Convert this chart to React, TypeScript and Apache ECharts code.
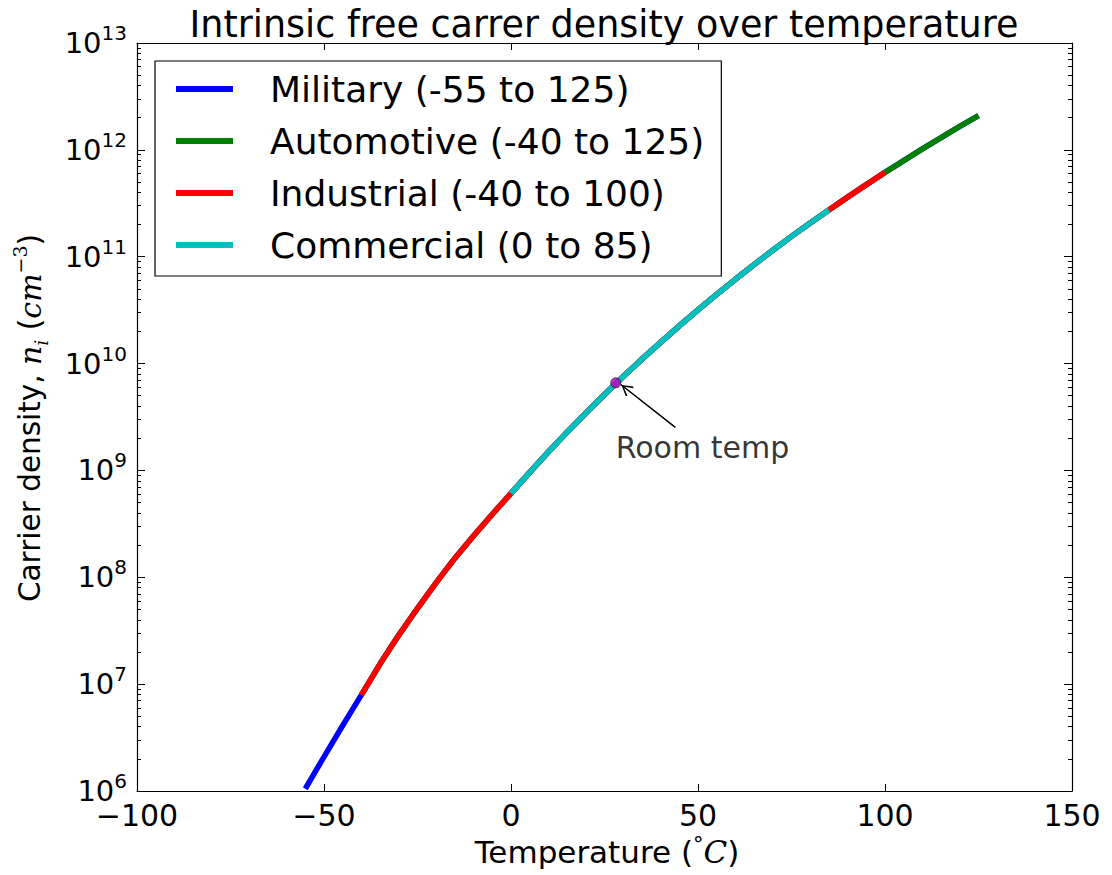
import { useEffect, useRef } from "react";
import * as echarts from "echarts";

// ---- data ----
const temps = [
  -55, -50, -45, -40, -35, -30, -25, -20, -15, -10, -5,
  0, 5, 10, 15, 20, 25, 30, 35, 40, 45, 50, 55, 60, 65, 70, 75, 80, 85, 90, 95,
  100, 105, 110, 115, 120, 125,
];
const density = [
  1.05e6, 2.09e6, 4.1e6, 7.94e6, 1.55e7, 2.88e7, 5.13e7, 8.91e7, 1.51e8, 2.45e8, 3.89e8,
  6.1e8, 9.6e8, 1.49e9, 2.28e9, 3.44e9, 5.14e9, 7.57e9, 1.1e10, 1.58e10, 2.25e10, 3.18e10,
  4.45e10, 6.15e10, 8.43e10, 1.15e11, 1.55e11, 2.07e11, 2.74e11, 3.61e11, 4.73e11,
  6.15e11, 7.94e11, 1.02e12, 1.3e12, 1.66e12, 2.09e12,
];
const seriesNames = [
  "Military (-55 to 125)",
  "Automotive (-40 to 125)",
  "Industrial (-40 to 100)",
  "Commercial (0 to 85)",
];
const seriesRanges = [
  [-55, 125],
  [-40, 125],
  [-40, 100],
  [0, 85],
];
const roomTemp = [28, 6.6e9];
const roomArrowFrom = [43.9, 2.54e9];
const roomArrowTo = [29.4, 6.35e9];
const roomLabelAt = [28, 1.65e9];
const roomLabel = "Room temp";
const xMin = -100;
const xMax = 150;
const xInterval = 50;
const yMin = 1e6;
const yMax = 1e13;
const title = "Intrinsic free carrer density over temperature";

const colors = ["#0000ff", "#008000", "#ff0000", "#00bfbf"];
const FONT = "DejaVu Sans";
const MATH = "DejaVu Serif";

export default function App() {
  const ref = useRef<HTMLDivElement>(null);

  useEffect(() => {
    if (!ref.current) return;
    const chart = echarts.init(ref.current, undefined, { renderer: "svg" });

    const lineSeries = seriesNames.map((name, i) => {
      const [lo, hi] = seriesRanges[i];
      const data = temps
        .map((t, k) => [t, density[k]])
        .filter(([t]) => t >= lo && t <= hi);
      return {
        name,
        type: "line",
        data,
        showSymbol: false,
        symbol: "none",
        smooth: false,
        lineStyle: { color: colors[i], width: 5.5, cap: "butt" },
        itemStyle: { color: colors[i] },
        silent: true,
        z: 2 + i,
      };
    });

    const tickLabelRich = {
      b: { fontSize: 29, fontFamily: FONT, color: "#000", lineHeight: 40 },
      e: { fontSize: 20, fontFamily: FONT, color: "#000", lineHeight: 20, verticalAlign: "top" },
    };

    const yAxisCommon = {
      type: "log",
      logBase: 10,
      min: yMin,
      max: yMax,
      splitLine: { show: false },
      axisLine: { show: true, onZero: false, lineStyle: { color: "#000", width: 1.2 } },
      axisTick: { show: true, inside: true, length: 8, lineStyle: { color: "#000", width: 1 } },
      minorTick: { show: true, splitNumber: 9, length: 4, lineStyle: { color: "#000", width: 1 } },
      minorSplitLine: { show: false },
    };

    const xAxisCommon = {
      type: "value",
      min: xMin,
      max: xMax,
      interval: xInterval,
      splitLine: { show: false },
      axisLine: { show: true, onZero: false, lineStyle: { color: "#000", width: 1.2 } },
      axisTick: { show: true, inside: true, length: 7, lineStyle: { color: "#000", width: 1 } },
    };

    const option = {
      animation: false,
      backgroundColor: "#fff",
      grid: { left: 137, right: 40, top: 43, bottom: 84, containLabel: false },
      xAxis: [
        {
          ...xAxisCommon,
          position: "bottom",
          axisLabel: {
            show: true,
            fontSize: 30,
            fontFamily: FONT,
            color: "#000",
            margin: 9,
            formatter: (v: number) => (v < 0 ? "\u2212" + Math.abs(v) : String(v)),
          },
        },
        { ...xAxisCommon, position: "top", axisLabel: { show: false } },
      ],
      yAxis: [
        {
          ...yAxisCommon,
          position: "left",
          axisLabel: {
            show: true,
            margin: 10,
            formatter: (v: number) => `{b|10}{e|${Math.round(Math.log10(v))}}`,
            rich: tickLabelRich,
          },
        },
        { ...yAxisCommon, position: "right", axisLabel: { show: false } },
      ],
      legend: {
        show: true,
        orient: "vertical",
        left: 155,
        top: 61,
        padding: [10, 17, 13, 21],
        itemWidth: 57,
        itemHeight: 6,
        itemGap: 16,
        icon: "rect",
        borderColor: "#000",
        borderWidth: 1.2,
        backgroundColor: "#fff",
        selectedMode: false,
        textStyle: {
          fontSize: 36,
          fontFamily: FONT,
          color: "#000",
          lineHeight: 36,
          padding: [0, 0, 0, 32],
        },
        data: seriesNames,
      },
      graphic: [
        {
          type: "text",
          x: 604,
          y: 24,
          style: {
            text: title,
            fontSize: 36.5,
            fontFamily: FONT,
            fill: "#000",
            align: "center",
            verticalAlign: "middle",
          },
        },
        {
          type: "text",
          x: 607,
          y: 852,
          style: {
            text: "Temperature ({s|\u00b0}{m|C})",
            fontSize: 31,
            fontFamily: FONT,
            fill: "#000",
            align: "center",
            verticalAlign: "middle",
            rich: {
              s: { fontSize: 21, fontFamily: MATH, lineHeight: 38, verticalAlign: "top", fill: "#000" },
              m: { fontSize: 31, fontFamily: MATH, fontStyle: "italic", fill: "#000" },
            },
          },
        },
        {
          type: "text",
          x: 30,
          y: 418,
          rotation: Math.PI / 2,
          style: {
            text: "Carrier density, {m|n}{sub|i} ({m|cm}{sup|\u22123})",
            fontSize: 29.5,
            fontFamily: FONT,
            fill: "#000",
            align: "center",
            verticalAlign: "middle",
            rich: {
              m: { fontSize: 30, fontFamily: MATH, fontStyle: "italic", fill: "#000", lineHeight: 40 },
              sub: { fontSize: 19, fontFamily: MATH, fontStyle: "italic", fill: "#000", lineHeight: 22, verticalAlign: "bottom" },
              sup: { fontSize: 19, fontFamily: MATH, fill: "#000", lineHeight: 20, verticalAlign: "top" },
            },
          },
        },
      ],
      series: [
        ...lineSeries,
        {
          name: "roomTempPoint",
          type: "scatter",
          data: [roomTemp],
          symbol: "circle",
          symbolSize: 10,
          silent: true,
          itemStyle: { color: "#bf00bf", borderColor: "#000", borderWidth: 0.8 },
          z: 10,
          markLine: {
            silent: true,
            symbol: ["none", "none"],
            label: { show: false },
            lineStyle: { color: "#000", width: 1.2, type: "solid" },
            data: [
              [{ coord: roomArrowFrom }, { coord: roomArrowTo }],
              [
                { coord: roomArrowFrom, symbol: "none" },
                {
                  coord: roomArrowTo,
                  symbol:
                    "path://M5,0 L5.01,0 L5,0 Z M5,10 L10,18 L9,19 L5,12 L1,19 L0,18 Z",
                  symbolSize: [12, 24],
                },
              ],
            ],
          },
        },
        {
          name: "roomTempLabel",
          type: "scatter",
          data: [roomLabelAt],
          symbolSize: 0,
          silent: true,
          itemStyle: { color: "transparent" },
          label: {
            show: true,
            formatter: roomLabel,
            position: "right",
            distance: 0,
            fontSize: 30,
            fontFamily: FONT,
            color: "#000",
          },
          z: 10,
        },
      ],
    };

    chart.setOption(option as any);
    return () => chart.dispose();
  }, []);

  return (
    <div
      ref={ref}
      style={{ position: "absolute", left: 0, top: 0, width: 1112, height: 875, background: "#fff" }}
    />
  );
}
